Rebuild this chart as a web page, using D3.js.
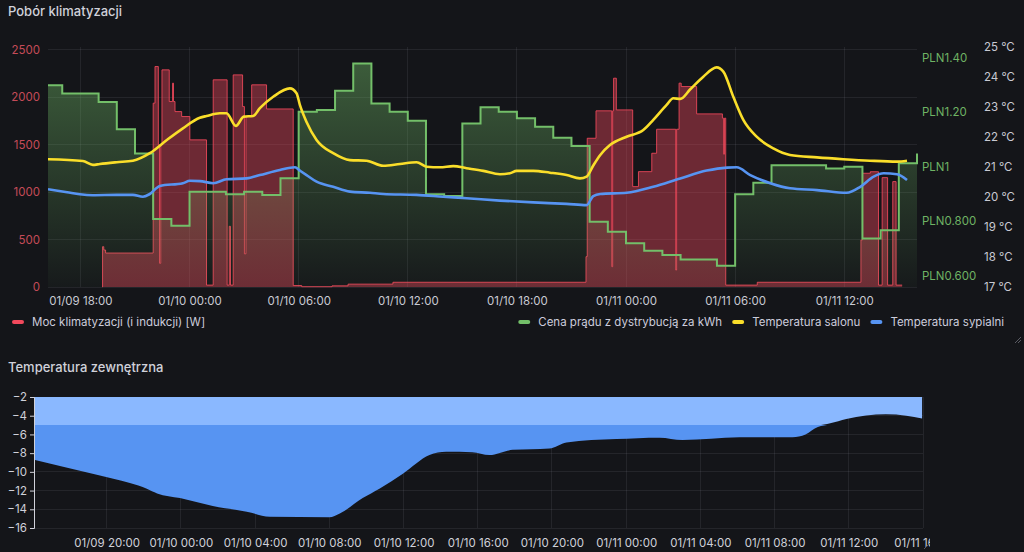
<!DOCTYPE html>
<html>
<head>
<meta charset="utf-8">
<script src="https://cdn.jsdelivr.net/npm/d3@7"></script>
<style>
  body { margin: 0; background: #141519; }
  svg { display: block; font-family: Inter, "Noto Sans", sans-serif; }
  .title { fill: #d0d1da; font-size: 13px; font-weight: 500; }
  .grid line { stroke: rgba(204, 204, 220, 0.09); shape-rendering: crispEdges; }
  .legend text { fill: #ccccdc; font-size: 11.5px; }
</style>
</head>
<body>
<svg id="chart" width="1024" height="552"></svg>
<script>
// ---- data ----
// Moc klimatyzacji [W], step changes
const powerPoints = [
  ["01/09 19:12", 0], ["01/09 19:13", 425], ["01/09 19:17", 390], ["01/09 19:23", 358],
  ["01/09 22:00", 1938], ["01/09 22:06", 2324], ["01/09 22:17", 1500], ["01/09 22:21", 250],
  ["01/09 22:25", 1500], ["01/09 22:29", 2289], ["01/09 22:53", 1955], ["01/09 23:04", 2149],
  ["01/09 23:07", 1955], ["01/09 23:12", 1849], ["01/09 23:34", 1797], ["01/10 00:01", 1551],
  ["01/10 00:56", 20], ["01/10 01:18", 2184], ["01/10 02:04", 20], ["01/10 02:11", 640],
  ["01/10 02:15", 20], ["01/10 02:24", 2236], ["01/10 02:55", 1902], ["01/10 03:01", 350],
  ["01/10 03:06", 1800], ["01/10 03:25", 2131], ["01/10 04:14", 1877], ["01/10 05:42", 15],
  ["01/10 06:10", 3], ["01/10 07:50", 12], ["01/10 08:43", 30], ["01/10 11:11", 50],
  ["01/10 21:48", 320], ["01/10 21:52", 1568], ["01/10 22:21", 1857], ["01/10 23:13", 214],
  ["01/10 23:16", 1857], ["01/10 23:19", 2201], ["01/10 23:28", 1867], ["01/11 00:22", 1058],
  ["01/11 00:41", 1216], ["01/11 01:25", 1410], ["01/11 01:41", 1663], ["01/11 02:44", 179],
  ["01/11 02:47", 1663], ["01/11 02:55", 2149], ["01/11 03:02", 2113], ["01/11 03:53", 1825],
  ["01/11 05:18", 1780], ["01/11 05:22", 1400], ["01/11 05:25", 1780], ["01/11 05:29", 20],
  ["01/11 07:13", 50], ["01/11 12:55", 496], ["01/11 13:00", 1199], ["01/11 13:26", 1215],
  ["01/11 13:53", 20], ["01/11 14:05", 1153], ["01/11 14:23", 20], ["01/11 14:40", 1111],
  ["01/11 14:51", 20], ["01/11 15:11", 20]
];

// Cena prądu z dystrybucją za kWh, hourly from priceStart
const priceStart = "01/09 16:00";
const priceValues = [
  1.298, 1.268, 1.268, 1.237, 1.137, 1.048, 0.808, 0.783,
  0.908, 0.908, 0.899, 0.908, 0.896, 0.957, 1.201, 1.207, 1.278, 1.378, 1.231, 1.201,
  1.168, 0.899, 0.892, 1.158, 1.217, 1.201, 1.177, 1.146, 1.106, 1.075, 0.798, 0.761,
  0.719, 0.692, 0.676, 0.660, 0.660, 0.637, 0.899, 0.941, 1.005, 1.005, 1.005, 0.993,
  0.999, 0.737, 0.767, 1.012, 1.048
];

// Temperatura salonu [°C]
const salonPoints = [
  ["01/09 16:13", 21.26], ["01/09 18:08", 21.2], ["01/09 18:41", 21.07], ["01/09 19:04", 21.1],
  ["01/09 20:00", 21.16], ["01/09 20:53", 21.21], ["01/09 21:49", 21.46], ["01/09 22:45", 21.9],
  ["01/09 23:38", 22.29], ["01/10 00:34", 22.64], ["01/10 00:56", 22.7], ["01/10 01:40", 22.79],
  ["01/10 02:02", 22.79], ["01/10 02:33", 22.37], ["01/10 02:59", 22.68], ["01/10 03:30", 22.7],
  ["01/10 03:52", 22.96], ["01/10 04:36", 23.34], ["01/10 05:31", 23.62], ["01/10 05:53", 23.46],
  ["01/10 06:04", 23.07], ["01/10 06:26", 22.5], ["01/10 06:59", 21.9], ["01/10 07:54", 21.46],
  ["01/10 08:49", 21.23], ["01/10 09:44", 21.21], ["01/10 10:39", 21.04], ["01/10 11:34", 21.1],
  ["01/10 12:29", 21.16], ["01/10 13:02", 21.01], ["01/10 13:46", 20.99], ["01/10 14:30", 21.03],
  ["01/10 15:14", 20.96], ["01/10 16:09", 20.87], ["01/10 17:04", 20.76], ["01/10 17:37", 20.79],
  ["01/10 17:59", 20.87], ["01/10 18:54", 20.87], ["01/10 19:49", 20.81], ["01/10 20:44", 20.73],
  ["01/10 21:28", 20.62], ["01/10 21:50", 20.68], ["01/10 22:12", 21.05], ["01/10 22:35", 21.4],
  ["01/10 23:07", 21.73], ["01/11 00:02", 22.01], ["01/11 00:57", 22.23], ["01/11 01:30", 22.57],
  ["01/11 02:14", 23.07], ["01/11 02:36", 23.29], ["01/11 02:59", 23.27], ["01/11 03:32", 23.59],
  ["01/11 04:15", 24.01], ["01/11 04:59", 24.32], ["01/11 05:21", 24.18], ["01/11 05:54", 23.34],
  ["01/11 06:27", 22.57], ["01/11 07:11", 22.01], ["01/11 08:06", 21.62], ["01/11 09:01", 21.4],
  ["01/11 10:30", 21.32], ["01/11 11:57", 21.26], ["01/11 13:25", 21.21], ["01/11 14:54", 21.18],
  ["01/11 15:27", 21.21]
];

// Temperatura sypialni [°C]
const sypialniaPoints = [
  ["01/09 16:13", 20.26], ["01/09 17:16", 20.16], ["01/09 17:58", 20.09], ["01/09 18:41", 20.06],
  ["01/09 20:00", 20.07], ["01/09 20:53", 20.07], ["01/09 21:26", 20.01], ["01/09 21:49", 20.1],
  ["01/09 22:22", 20.37], ["01/09 23:38", 20.46], ["01/10 00:01", 20.54], ["01/10 00:34", 20.53],
  ["01/10 01:18", 20.46], ["01/10 02:02", 20.59], ["01/10 03:08", 20.62], ["01/10 03:52", 20.73],
  ["01/10 04:58", 20.9], ["01/10 05:48", 20.99], ["01/10 06:04", 20.88], ["01/10 06:26", 20.73],
  ["01/10 06:59", 20.51], ["01/10 07:54", 20.34], ["01/10 08:49", 20.18], ["01/10 09:55", 20.14],
  ["01/10 10:39", 20.1], ["01/10 12:29", 20.07], ["01/10 13:57", 20.01], ["01/10 15:14", 19.96],
  ["01/10 17:04", 19.88], ["01/10 18:54", 19.82], ["01/10 20:44", 19.77], ["01/10 21:50", 19.73],
  ["01/10 22:12", 20.03], ["01/10 22:35", 20.1], ["01/11 00:02", 20.14], ["01/11 01:30", 20.34],
  ["01/11 02:59", 20.62], ["01/11 04:26", 20.88], ["01/11 05:33", 20.98], ["01/11 06:05", 20.99],
  ["01/11 06:50", 20.73], ["01/11 07:56", 20.46], ["01/11 09:01", 20.29], ["01/11 10:30", 20.23],
  ["01/11 12:08", 20.14], ["01/11 12:53", 20.34], ["01/11 13:37", 20.68], ["01/11 14:10", 20.79],
  ["01/11 14:54", 20.76], ["01/11 15:27", 20.57]
];

// Temperatura zewnętrzna [°C]
const outdoorPoints = [
  ["01/09 16:05", -8.7], ["01/09 17:39", -9.45], ["01/09 19:28", -10.3], ["01/09 21:15", -11.2],
  ["01/09 22:10", -11.8], ["01/09 22:43", -12.3], ["01/09 23:57", -12.8], ["01/10 01:43", -13.65],
  ["01/10 03:33", -14.25], ["01/10 04:48", -14.8], ["01/10 08:00", -14.85], ["01/10 08:34", -14.45],
  ["01/10 09:48", -12.8], ["01/10 10:42", -11.8], ["01/10 11:58", -10.2], ["01/10 13:24", -8.2],
  ["01/10 14:18", -7.85], ["01/10 15:42", -7.9], ["01/10 16:38", -8.2], ["01/10 17:53", -7.65],
  ["01/10 19:52", -7.5], ["01/10 20:47", -6.85], ["01/10 23:28", -6.5], ["01/11 01:48", -6.35],
  ["01/11 03:02", -6.6], ["01/11 06:06", -6.3], ["01/11 08:58", -6.3], ["01/11 09:40", -6.0],
  ["01/11 10:20", -5.2], ["01/11 11:00", -4.8], ["01/11 11:52", -4.35], ["01/11 14:00", -3.85],
  ["01/11 15:06", -4.0], ["01/11 15:57", -4.3]
];

// axis ticks / labels
const powerTicks = [0, 500, 1000, 1500, 2000, 2500];
const priceTicks = [0.6, 0.8, 1.0, 1.2, 1.4];
const priceTickLabels = ["PLN0.600", "PLN0.800", "PLN1", "PLN1.20", "PLN1.40"];
const tempTicks = [17, 18, 19, 20, 21, 22, 23, 24, 25];
const outdoorTicks = [-2, -4, -6, -8, -10, -12, -14, -16];
const outdoorTop = -2;
const outdoorThreshold = -5;

const legendLeft = { name: "Moc klimatyzacji (i indukcji) [W]", color: "#f2495c" };
const legendRight = [
  { name: "Cena prądu z dystrybucją za kWh", color: "#73bf69" },
  { name: "Temperatura salonu", color: "#fade2a" },
  { name: "Temperatura sypialni", color: "#5794f2" }
];

// ---- helpers ----
const parseTime = s => d3.utcParse("%Y/%m/%d %H:%M")("2024/" + s);
const toSeries = pts => pts.map(([s, v]) => ({ t: parseTime(s), v: v }));
const fmt = d3.utcFormat("%m/%d %H:%M");

const svg = d3.select("#chart");
const defs = svg.append("defs");

// ===================== top panel =====================
const pA = { left: 48, right: 917, top: 47, bottom: 287 };

svg.append("text").attr("class", "title").attr("x", 8).attr("y", 16).text("Pobór klimatyzacji");

const xTop = d3.scaleUtc()
  .domain([parseTime("01/09 16:13"), parseTime("01/11 16:00")])
  .range([pA.left, pA.right]);
const yPower = d3.scaleLinear().domain([0, 2530]).range([pA.bottom, pA.top]);
const yPrice = d3.scaleLinear().domain([0.559, 1.438]).range([pA.bottom, pA.top]);
const yTemp = d3.scaleLinear().domain([17, 25]).range([pA.bottom, pA.top]);

defs.append("clipPath").attr("id", "clipTop").append("rect")
  .attr("x", pA.left).attr("y", pA.top - 10)
  .attr("width", pA.right - pA.left + 1).attr("height", pA.bottom - pA.top + 11);

const gGreen = defs.append("linearGradient").attr("id", "greenFill")
  .attr("gradientUnits", "userSpaceOnUse")
  .attr("x1", 0).attr("x2", 0).attr("y1", yPrice(1.38)).attr("y2", pA.bottom);
gGreen.append("stop").attr("offset", 0).attr("stop-color", "#73bf69").attr("stop-opacity", 0.42);
gGreen.append("stop").attr("offset", 1).attr("stop-color", "#73bf69").attr("stop-opacity", 0.03);

// grid
const gridTop = svg.append("g").attr("class", "grid");
gridTop.selectAll("line.h").data(powerTicks).join("line").attr("class", "h")
  .attr("x1", pA.left).attr("x2", pA.right)
  .attr("y1", d => yPower(d)).attr("y2", d => yPower(d));
gridTop.selectAll("line.v").data(xTop.ticks(d3.utcHour.every(6))).join("line").attr("class", "v")
  .attr("x1", d => xTop(d)).attr("x2", d => xTop(d))
  .attr("y1", pA.top).attr("y2", pA.bottom);

const plotTop = svg.append("g").attr("clip-path", "url(#clipTop)");

// power (red)
const powerData = toSeries(powerPoints);
plotTop.append("path").datum(powerData)
  .attr("fill", "rgba(242,73,92,0.4)")
  .attr("d", d3.area().curve(d3.curveStepAfter)
    .x(d => xTop(d.t)).y0(yPower(0)).y1(d => yPower(d.v)));
plotTop.append("path").datum(powerData)
  .attr("fill", "none").attr("stroke", "#f2495c").attr("stroke-opacity", 0.85).attr("stroke-width", 1)
  .attr("d", d3.line().curve(d3.curveStepAfter).x(d => xTop(d.t)).y(d => yPower(d.v)));

// price (green)
const priceData = priceValues.map((v, i) => ({ t: d3.utcHour.offset(parseTime(priceStart), i), v: v }));
plotTop.append("path").datum(priceData)
  .attr("fill", "url(#greenFill)")
  .attr("d", d3.area().curve(d3.curveStepAfter)
    .x(d => xTop(d.t)).y0(pA.bottom).y1(d => yPrice(d.v)));
plotTop.append("path").datum(priceData)
  .attr("fill", "none").attr("stroke", "#73bf69").attr("stroke-width", 2)
  .attr("d", d3.line().curve(d3.curveStepAfter).x(d => xTop(d.t)).y(d => yPrice(d.v)));

// temperatures
const tempLine = d3.line().curve(d3.curveMonotoneX).x(d => xTop(d.t)).y(d => yTemp(d.v));
plotTop.append("path").datum(toSeries(salonPoints))
  .attr("fill", "none").attr("stroke", "#fade2a").attr("stroke-width", 2.6)
  .attr("stroke-linejoin", "round").attr("d", tempLine);
plotTop.append("path").datum(toSeries(sypialniaPoints))
  .attr("fill", "none").attr("stroke", "#5794f2").attr("stroke-width", 2.6)
  .attr("stroke-linejoin", "round").attr("d", tempLine);

// axes
function styleAxis(g, color) {
  g.select(".domain").remove();
  g.attr("font-family", null).attr("font-size", null);
  g.selectAll("text").attr("fill", color).style("font-size", "11.5px");
}
svg.append("g").attr("transform", "translate(40,0)")
  .call(d3.axisLeft(yPower).tickValues(powerTicks).tickSize(0).tickPadding(0).tickFormat(d3.format("d")))
  .call(g => styleAxis(g, "#c44b58"));
svg.append("g").attr("transform", "translate(922,0)")
  .call(d3.axisRight(yPrice).tickValues(priceTicks).tickSize(0).tickPadding(0)
    .tickFormat((d, i) => priceTickLabels[i]))
  .call(g => styleAxis(g, "#6fb364"));
svg.append("g").attr("transform", "translate(984,0)")
  .call(d3.axisRight(yTemp).tickValues(tempTicks).tickSize(0).tickPadding(0)
    .tickFormat(d => d + " °C"))
  .call(g => styleAxis(g, "#c9cad3"));
svg.append("g").attr("transform", `translate(0,${pA.bottom})`)
  .call(d3.axisBottom(xTop).ticks(d3.utcHour.every(6)).tickFormat(fmt).tickSize(0).tickPadding(10))
  .call(g => styleAxis(g, "#c9cad3"));

// legend
const legend = svg.append("g").attr("class", "legend");
function legendItem(x, item) {
  const g = legend.append("g").attr("transform", `translate(${x},322)`);
  g.append("rect").attr("x", 0).attr("y", -2).attr("width", 12).attr("height", 4)
    .attr("rx", 2).attr("fill", item.color);
  const t = g.append("text").attr("x", 20).attr("dy", "0.35em").text(item.name);
  return 20 + t.node().getComputedTextLength();
}
legendItem(12, legendLeft);
// right group is aligned to the right edge
{
  const widths = legendRight.map(item => {
    const tmp = legend.append("text").text(item.name);
    const w = tmp.node().getComputedTextLength();
    tmp.remove();
    return w;
  });
  const total = widths.reduce((a, w) => a + 20 + w, 0) + 10 * (legendRight.length - 1);
  let x = 1004 - total;
  legendRight.forEach((item, i) => {
    legendItem(x, item);
    x += 20 + widths[i] + 10;
  });
}

// resize handle marks
svg.append("g").attr("stroke", "#5a5b63").attr("stroke-width", 1)
  .selectAll("line").data([[1015, 343, 1021, 337], [1018, 343, 1021, 340]]).join("line")
  .attr("x1", d => d[0]).attr("y1", d => d[1]).attr("x2", d => d[2]).attr("y2", d => d[3]);

// ===================== bottom panel =====================
const pB = { left: 34, right: 923, top: 397, bottom: 528, clip: 930 };

svg.append("text").attr("class", "title").attr("x", 8).attr("y", 372).text("Temperatura zewnętrzna");

defs.append("clipPath").attr("id", "clipBottom").append("rect")
  .attr("x", 0).attr("y", 380).attr("width", pB.clip).attr("height", 172);

const xBot = d3.scaleUtc()
  .domain([parseTime("01/09 16:05"), parseTime("01/11 16:00")])
  .range([pB.left, pB.right]);
const yBot = d3.scaleLinear().domain([-16, -2]).range([pB.bottom, pB.top]);

const bottom = svg.append("g").attr("clip-path", "url(#clipBottom)");

const gridBot = bottom.append("g").attr("class", "grid");
gridBot.selectAll("line.h").data(outdoorTicks).join("line").attr("class", "h")
  .attr("x1", pB.left).attr("x2", pB.right)
  .attr("y1", d => yBot(d)).attr("y2", d => yBot(d));
gridBot.selectAll("line.v").data(xBot.ticks(d3.utcHour.every(4))).join("line").attr("class", "v")
  .attr("x1", d => xBot(d)).attr("x2", d => xBot(d))
  .attr("y1", pB.top).attr("y2", pB.bottom);

const outdoorData = toSeries(outdoorPoints);
bottom.append("path").datum(outdoorData)
  .attr("fill", "#8ab8ff")
  .attr("d", d3.area().curve(d3.curveMonotoneX).x(d => xBot(d.t))
    .y0(yBot(outdoorTop)).y1(d => yBot(Math.max(d.v, outdoorThreshold))));
bottom.append("path").datum(outdoorData)
  .attr("fill", "#5794f2")
  .attr("d", d3.area().curve(d3.curveMonotoneX).x(d => xBot(d.t))
    .y0(yBot(outdoorThreshold)).y1(d => yBot(Math.min(d.v, outdoorThreshold))));

bottom.append("g").attr("transform", `translate(${pB.left},0)`)
  .call(d3.axisLeft(yBot).tickValues(outdoorTicks).tickSize(4).tickSizeOuter(4).tickPadding(3))
  .call(g => {
    g.attr("font-family", null).attr("font-size", null);
    g.select(".domain").attr("stroke", "#d0d1da");
    g.selectAll(".tick line").attr("stroke", "#d0d1da");
    g.selectAll("text").attr("fill", "#d0d1da").style("font-size", "11.5px");
  });

bottom.append("g").attr("transform", `translate(0,${pB.bottom})`)
  .call(d3.axisBottom(xBot).ticks(d3.utcHour.every(4)).tickFormat(fmt).tickSize(0).tickPadding(11))
  .call(g => styleAxis(g, "#d0d1da"));

svg.append("line").attr("x1", 924).attr("y1", 549).attr("x2", 930).attr("y2", 543)
  .attr("stroke", "#5a5b63");
</script>
</body>
</html>
